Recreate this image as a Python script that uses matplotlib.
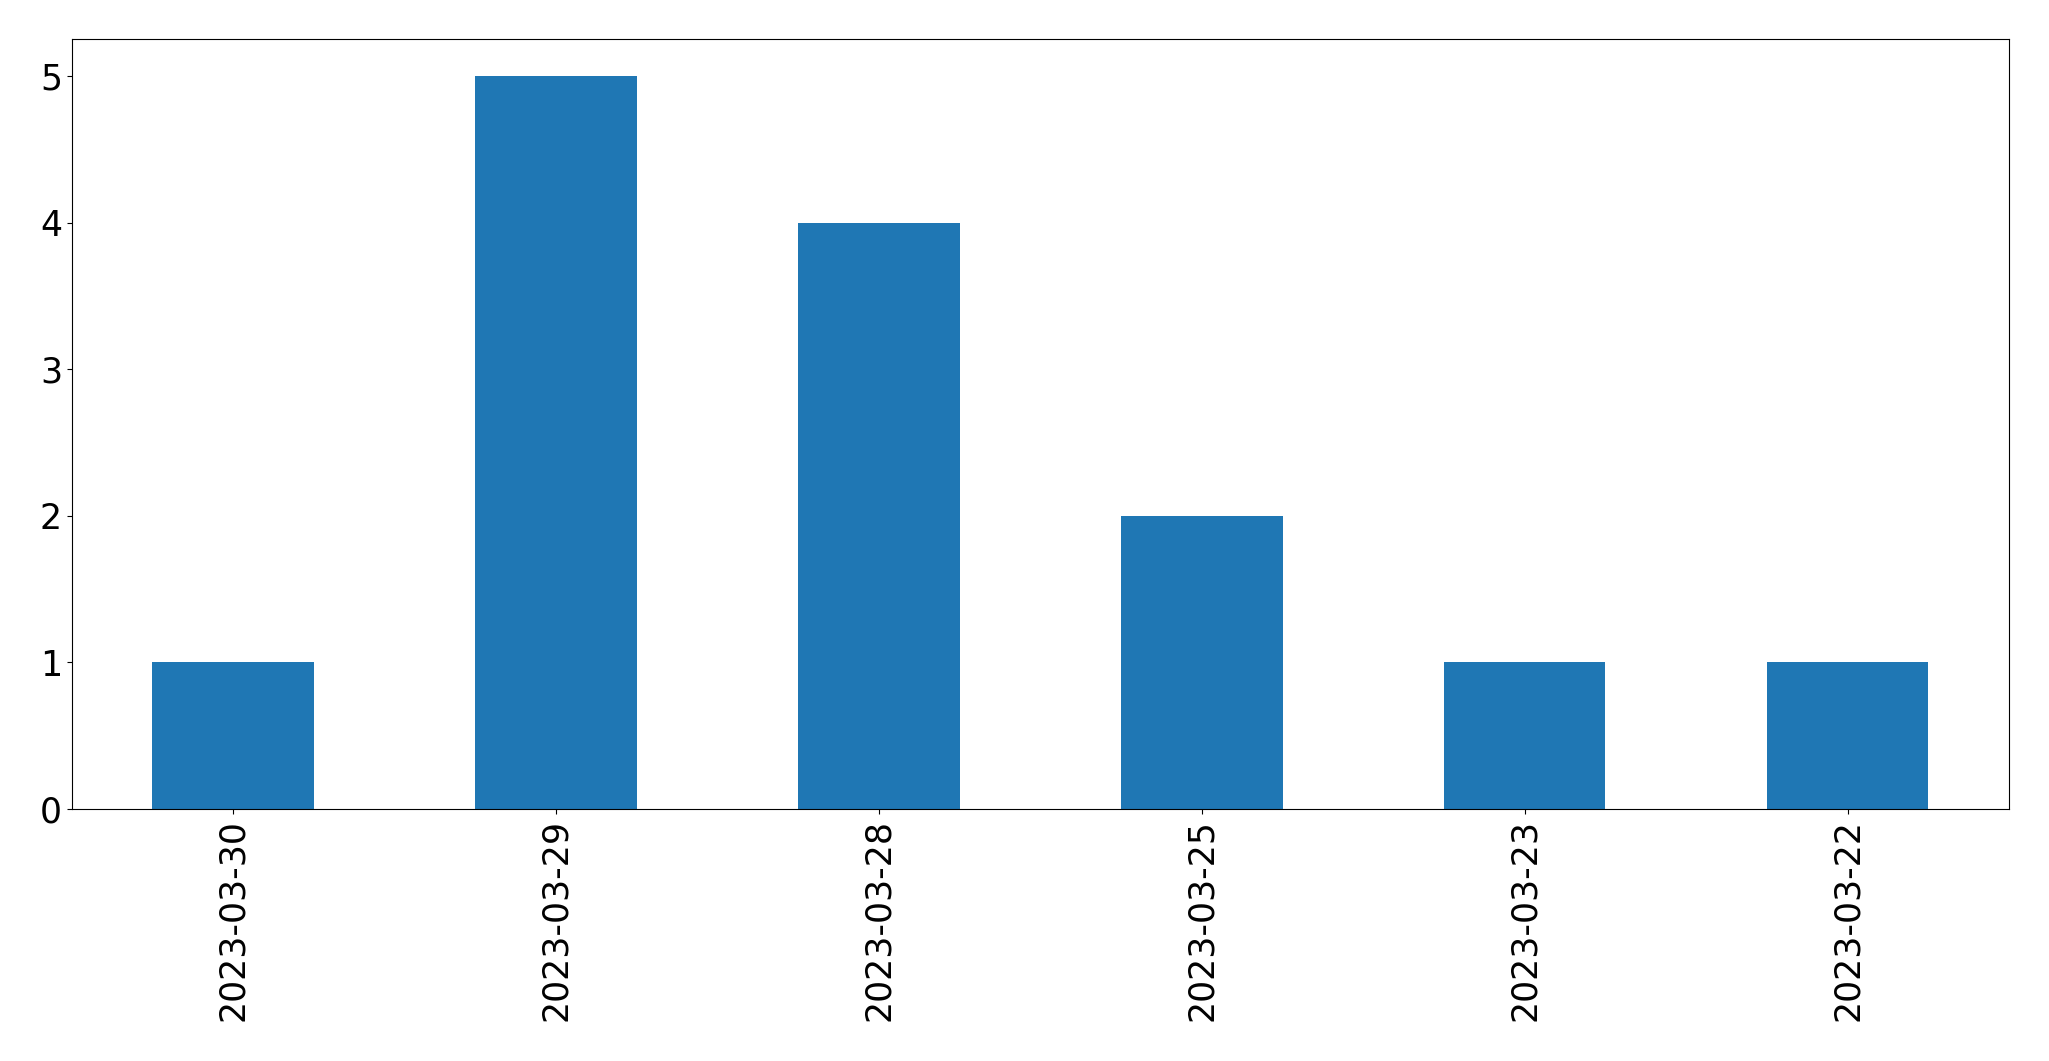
import matplotlib
matplotlib.use("Agg")
import matplotlib.pyplot as plt
import pandas as pd

dates = ['2023-03-30', '2023-03-29', '2023-03-28', '2023-03-25', '2023-03-23', '2023-03-22']
counts = [1, 5, 4, 2, 1, 1]

s = pd.Series(counts, index=dates)

fig, ax = plt.subplots(figsize=(20.49, 10.61), dpi=100)
s.plot(kind='bar', ax=ax, color='#1f77b4', width=0.5)
ax.tick_params(axis='both', labelsize=25)
plt.subplots_adjust(left=0.035, right=0.9805, top=0.963, bottom=0.2375)
plt.savefig('out.png', dpi=100)
